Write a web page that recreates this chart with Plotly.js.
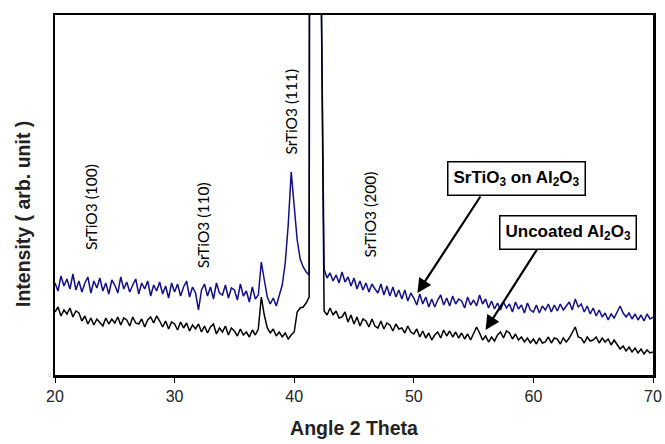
<!DOCTYPE html>
<html>
<head>
<meta charset="utf-8">
<script src="https://cdn.plot.ly/plotly-3.0.1.min.js"></script>
<style>html,body{margin:0;padding:0;background:#fff;}#chart{width:665px;height:444px;}</style>
</head>
<body>
<div id="chart"></div>
<script>
// Sampling grid: 2-theta from 20 to 70 in 0.25 degree steps
const angleStart = 20, angleStep = 0.25, angleCount = 201;

// SrTiO3 on Al2O3 (blue), intensity in arbitrary units, one group of 4 per degree
const coatedIntensity = [
  92, 84, 99, 89,   96, 86, 101, 85,  94, 83, 92, 98,   82, 94, 87, 97,
  84, 92, 81, 95,   90, 82, 98, 86,   93, 83, 90, 96,   81, 92, 86, 94,
  79, 90, 84, 93,   81, 89, 77, 92,   83, 91, 79, 88,   94, 78, 88, 82,
  65, 85, 91, 79,   88, 76, 92, 82,   80, 90, 77, 87,   85, 75, 91, 79,
  84, 73, 88, 76,   80, 113, 95, 78,  71, 77, 69, 79,   90, 112, 150, 203,
  172, 135, 116, 108, 103, 100, 3000, 5000, 3000, 400, 106, 97, 102, 94, 100, 92,
  103, 93, 98, 89,  97, 86, 94, 85,   92, 83, 91, 86,   82, 91, 80, 89,
  79, 88, 78, 85,   76, 85, 74, 82,   77, 70, 81, 71,   78, 68, 76, 68,
  75, 80, 70, 77,   69, 79, 71, 76,   74, 67, 78, 70,   75, 69, 80, 71,
  76, 67, 74, 66,   72, 65, 73, 67,   71, 63, 73, 66,   70, 62, 72, 65,
  63, 70, 62, 69,   65, 71, 63, 70,   64, 71, 65, 69,   73, 65, 76, 68,
  71, 63, 69, 61,   67, 59, 65, 58,   62, 55, 61, 57,   63, 69, 62, 58,
  62, 56, 61, 55,   60, 54, 61, 56,   58
];

// Uncoated Al2O3 (black)
const uncoatedIntensity = [
  63, 68, 59, 65,   61, 67, 58, 64,   62, 54, 59, 51,   57, 50, 56, 52,
  49, 57, 51, 56,   52, 58, 50, 57,   55, 49, 58, 52,   51, 56, 48, 55,
  58, 52, 59, 54,   48, 54, 46, 53,   51, 45, 53, 47,   52, 44, 50, 46,
  51, 43, 49, 42,   48, 51, 41, 47,   43, 49, 40, 47,   44, 39, 46, 40,
  43, 38, 45, 40,   46, 78, 60, 47,   42, 46, 39, 43,   38, 42, 36, 40,
  43, 63, 67, 68,   72, 78, 3000, 5000, 3000, 400, 64, 60, 67, 60, 64, 57,
  58, 63, 53, 60,   51, 58, 49, 56,   54, 48, 56, 49,   47, 54, 46, 52,
  50, 44, 51, 46,   47, 42, 49, 43,   41, 46, 38, 44,   37, 42, 35, 40,
  43, 37, 45, 39,   44, 38, 43, 37,   42, 36, 41, 35,   41, 48, 42, 35,
  39, 33, 38, 34,   40, 43, 37, 44,   42, 36, 41, 35,   38, 33, 37, 32,
  36, 31, 37, 32,   33, 38, 32, 37,   36, 31, 37, 33,   37, 42, 48, 38,
  37, 32, 38, 34,   35, 38, 32, 37,   33, 36, 30, 35,   30, 26, 29, 24,
  28, 23, 27, 22,   26, 21, 25, 22,   23
];

const xTickValues = [20, 30, 40, 50, 60, 70];
const peakLabels = ["SrTiO3 (100)", "SrTiO3 (110)", "SrTiO3 (111)", "SrTiO3 (200)"];
const peakLabelAngles = [23.0, 32.4, 39.7, 46.3];
const peakLabelHeights = [168, 150, 263, 160];
const seriesLabels = ["SrTiO<sub>3</sub> on Al<sub>2</sub>O<sub>3</sub>", "Uncoated Al<sub>2</sub>O<sub>3</sub>"];
const yTitle = "Intensity ( arb. unit )";
const xTitle = "Angle 2 Theta";

const angles = [];
for (let i = 0; i < angleCount; i++) angles.push(+(angleStart + i * angleStep).toFixed(2));

const traces = [
  {x: angles, y: coatedIntensity, type: 'scatter', mode: 'lines',
   line: {color: '#10108a', width: 1.5}, hoverinfo: 'skip'},
  {x: angles, y: uncoatedIntensity, type: 'scatter', mode: 'lines',
   line: {color: '#000000', width: 1.5}, hoverinfo: 'skip'}
];

const boldFont = (size) => ({family: 'Liberation Sans, Arial, sans-serif', size: size, color: '#000', weight: 'bold'});

const annotations = [];
peakLabels.forEach((t, i) => {
  annotations.push({x: peakLabelAngles[i], y: peakLabelHeights[i], xref: 'x', yref: 'y',
    text: t, showarrow: false, textangle: -90,
    font: {family: 'Lato, Open Sans, sans-serif', size: 15.5, color: '#000'}});
});
// arrows
annotations.push({x: 50.3, y: 82, xref: 'x', yref: 'y', text: '', showarrow: true,
  ax: 64, ay: -98, arrowhead: 2, arrowsize: 1.3, arrowwidth: 2.2, arrowcolor: '#000'});
annotations.push({x: 56.0, y: 45, xref: 'x', yref: 'y', text: '', showarrow: true,
  ax: 53, ay: -83, arrowhead: 2, arrowsize: 1.3, arrowwidth: 2.2, arrowcolor: '#000'});
// boxed labels
annotations.push({x: 58.6, y: 197, xref: 'x', yref: 'y', text: seriesLabels[0], showarrow: false,
  bgcolor: '#fff', bordercolor: '#000', borderwidth: 1.5, borderpad: 5, font: boldFont(17)});
annotations.push({x: 62.9, y: 143, xref: 'x', yref: 'y', text: seriesLabels[1], showarrow: false,
  bgcolor: '#fff', bordercolor: '#000', borderwidth: 1.5, borderpad: 5, font: boldFont(17)});
// y-axis title (placed as text beside the axis)
annotations.push({x: 23, y: 214, xref: 'paper', yref: 'paper', text: yTitle, showarrow: false,
  textangle: -90, font: {family: 'Liberation Sans, Arial, sans-serif', size: 19.5, color: '#222', weight: 'bold'}});

// convert y-title pixel placement to paper fraction
const plotL = 55, plotR = 12, plotT = 15, plotB = 69, W = 665, H = 444;
const yt = annotations[annotations.length - 1];
yt.xref = 'paper'; yt.yref = 'paper';
yt.x = (yt.x - plotL) / (W - plotL - plotR);
yt.y = 1 - (yt.y - plotT) / (H - plotT - plotB);
yt.xanchor = 'center'; yt.yanchor = 'middle';

const layout = {
  width: W, height: H,
  margin: {l: plotL, r: plotR, t: plotT, b: plotB},
  paper_bgcolor: '#fff', plot_bgcolor: '#fff',
  showlegend: false,
  xaxis: {
    range: [20, 70], tickvals: xTickValues, ticks: 'outside', ticklen: 5, tickwidth: 1,
    tickcolor: '#000', showline: true, linecolor: '#000', linewidth: 2.5, mirror: true,
    showgrid: false, zeroline: false,
    tickfont: {family: 'Liberation Sans, Arial, sans-serif', size: 16, color: '#222'},
    title: {text: xTitle, standoff: 18,
      font: {family: 'Liberation Sans, Arial, sans-serif', size: 19.5, color: '#222', weight: 'bold'}}
  },
  yaxis: {
    range: [0, 360], tickvals: [0], ticktext: ['0'], ticks: '',
    showline: true, linecolor: '#000', linewidth: 2.5, mirror: true,
    showgrid: false, zeroline: false,
    tickfont: {family: 'Liberation Sans, Arial, sans-serif', size: 6, color: '#c8c8c8'}
  },
  annotations: annotations
};

Plotly.newPlot('chart', traces, layout, {staticPlot: true, displayModeBar: false});
</script>
</body>
</html>
